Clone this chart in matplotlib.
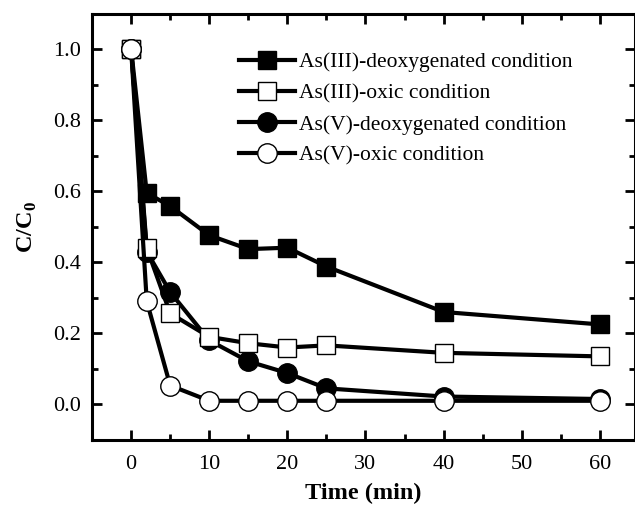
import matplotlib
matplotlib.use("Agg")
import matplotlib.pyplot as plt
from matplotlib.ticker import MultipleLocator, FormatStrFormatter

plt.rcParams['font.family'] = ['Liberation Serif', 'DejaVu Serif']
plt.rcParams['mathtext.fontset'] = 'custom'
plt.rcParams['mathtext.rm'] = 'Liberation Serif'
plt.rcParams['mathtext.bf'] = 'Liberation Serif:bold'

# Data
time = [0, 2, 5, 10, 15, 20, 25, 40, 60]
as3_deox = [1.0, 0.595, 0.558, 0.476, 0.437, 0.441, 0.388, 0.26, 0.225]
as3_oxic = [1.0, 0.44, 0.256, 0.19, 0.172, 0.16, 0.166, 0.145, 0.135]
as5_deox = [1.0, 0.43, 0.316, 0.18, 0.121, 0.088, 0.045, 0.022, 0.015]
as5_oxic = [1.0, 0.29, 0.053, 0.01, 0.01, 0.01, 0.01, 0.01, 0.01]

labels = ["As(III)-deoxygenated condition", "As(III)-oxic condition",
          "As(V)-deoxygenated condition", "As(V)-oxic condition"]

fig = plt.figure(figsize=(6.35, 5.05), dpi=100)
ax = fig.add_axes([0.145, 0.129, 0.855, 0.844])

lw = 3.0
ms = 13
ax.plot(time, as3_deox, '-s', color='black', lw=lw, ms=ms, mfc='black', mec='black', mew=1, label=labels[0], zorder=3)
ax.plot(time, as3_oxic, '-s', color='black', lw=lw, ms=ms, mfc='white', mec='black', mew=1, label=labels[1], zorder=5)
ax.plot(time, as5_deox, '-o', color='black', lw=lw, ms=ms + 1, mfc='black', mec='black', mew=1, label=labels[2], zorder=4)
ax.plot(time, as5_oxic, '-o', color='black', lw=lw, ms=ms + 1, mfc='white', mec='black', mew=1, label=labels[3], zorder=6)

ax.set_xlim(-5, 64.5)
ax.set_ylim(-0.1, 1.1)
ax.xaxis.set_major_locator(MultipleLocator(10))
ax.xaxis.set_minor_locator(MultipleLocator(5))
ax.yaxis.set_major_locator(MultipleLocator(0.2))
ax.yaxis.set_minor_locator(MultipleLocator(0.1))
ax.yaxis.set_major_formatter(FormatStrFormatter('%.1f'))

ax.tick_params(which='both', direction='in', top=True, right=True, labelsize=16, width=2, pad=8)
ax.tick_params(axis='x', which='both', pad=11)
ax.tick_params(which='major', length=7)
ax.tick_params(which='minor', length=4)
for s in ax.spines.values():
    s.set_linewidth(2.2)

ax.set_xlabel("Time (min)", fontsize=17.5, fontweight='bold', labelpad=6)
ax.set_ylabel(r"C/C$_\mathbf{0}$", fontsize=17.5, fontweight='bold', labelpad=10)

ax.legend(loc='upper left', bbox_to_anchor=(0.27, 0.91), frameon=False, fontsize=15.5,
          handlelength=2.6, handletextpad=0.22, labelspacing=0.52, borderaxespad=0,
          borderpad=0)

plt.savefig("out.png", dpi=100)
